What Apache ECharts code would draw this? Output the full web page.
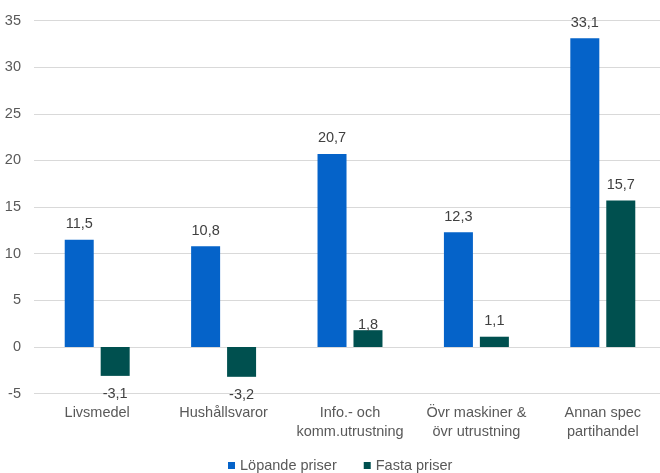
<!DOCTYPE html>
<html>
<head>
<meta charset="utf-8">
<script src="https://cdn.jsdelivr.net/npm/echarts@6/dist/echarts.min.js"></script>
<style>
  html, body { margin: 0; padding: 0; background: #ffffff; overflow: hidden; }
  #chart { width: 672px; height: 473px; }
</style>
</head>
<body>
<div id="chart"></div>
<script>
// Varugrupper och procentuell förändring
const categories = [
  'Livsmedel',
  'Hushållsvaror',
  'Info.- och\nkomm.utrustning',
  'Övr maskiner &\növr utrustning',
  'Annan spec\npartihandel'
];
const lopandePriser = [11.5, 10.8, 20.7, 12.3, 33.1];
const fastaPriser = [-3.1, -3.2, 1.8, 1.1, 15.7];
const seriesNames = ['Löpande priser', 'Fasta priser'];

const FONT = '"Liberation Sans", Arial, sans-serif';
const FS = 14.5;
const fmt = v => v.toFixed(1).replace('.', ',');

// Etiketter utanför stapelns ände: ovanför positiva, under negativa
function buildData(values, nudge) {
  return values.map((v, i) => {
    const item = { value: v };
    if (v < 0) {
      item.label = { position: 'bottom', distance: 11 };
    }
    if (nudge && nudge[i]) {
      item.label = Object.assign({}, item.label, { offset: [0, nudge[i]] });
    }
    return item;
  });
}

const labelStyle = {
  show: true,
  position: 'top',
  distance: 8,
  fontFamily: FONT,
  fontSize: FS,
  color: '#404040',
  formatter: p => fmt(p.value)
};

const chart = echarts.init(document.getElementById('chart'), null, { renderer: 'canvas' });
chart.setOption({
  animation: false,
  backgroundColor: '#ffffff',
  grid: { left: 34, top: 20.6, width: 632, bottom: 79.4, containLabel: false },
  legend: {
    left: 228,
    top: 458,
    padding: 0,
    itemWidth: 7,
    itemHeight: 7,
    itemGap: 27,
    icon: 'rect',
    textStyle: { fontFamily: FONT, fontSize: FS, color: '#595959' },
    data: seriesNames
  },
  xAxis: {
    type: 'category',
    data: categories,
    axisLine: { show: false },
    axisTick: { show: false },
    axisLabel: {
      fontFamily: FONT,
      fontSize: FS,
      lineHeight: 19,
      color: '#595959',
      margin: 10,
      interval: 0
    }
  },
  yAxis: {
    type: 'value',
    min: -5,
    max: 35,
    interval: 5,
    axisLine: { show: false },
    axisTick: { show: false },
    axisLabel: {
      fontFamily: FONT,
      fontSize: FS,
      color: '#595959',
      margin: 13
    },
    splitLine: { lineStyle: { color: '#d9d9d9', width: 1 } }
  },
  series: [
    {
      name: seriesNames[0],
      type: 'bar',
      barWidth: 29,
      barGap: '24%',
      itemStyle: { color: '#0563C9' },
      label: labelStyle,
      data: buildData(lopandePriser)
    },
    {
      name: seriesNames[1],
      type: 'bar',
      barWidth: 29,
      barGap: '24%',
      itemStyle: { color: '#00504F' },
      label: labelStyle,
      data: buildData(fastaPriser, { 2: 10 })
    }
  ]
});
</script>
</body>
</html>
